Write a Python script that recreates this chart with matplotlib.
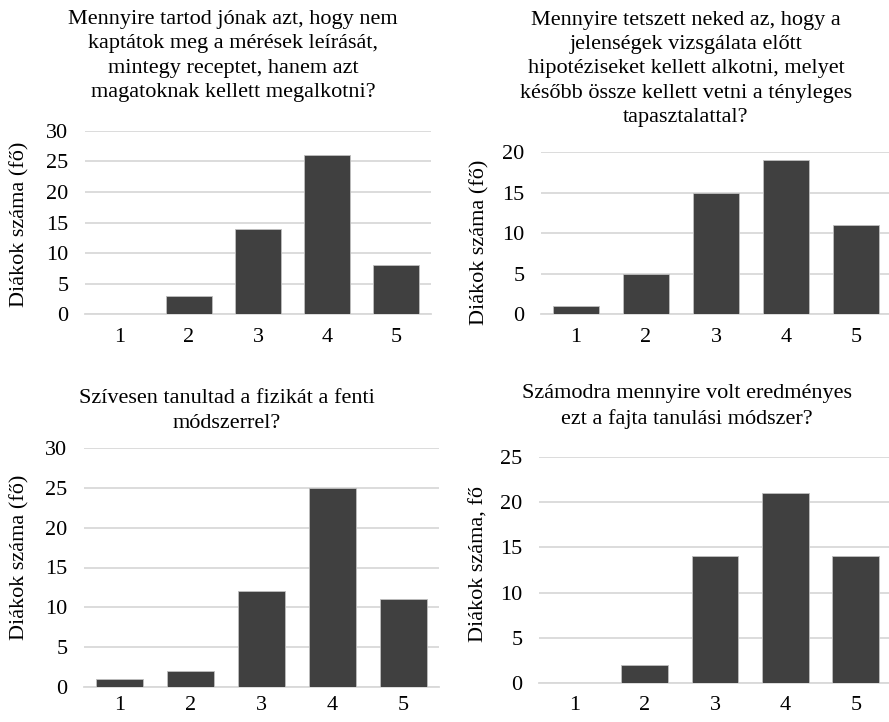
import matplotlib
matplotlib.use("Agg")
import matplotlib.pyplot as plt

plt.rcParams['font.family'] = ['Liberation Serif', 'DejaVu Serif']

categories = ["1", "2", "3", "4", "5"]

title_tl = "Mennyire tartod jónak azt, hogy nem\nkaptátok meg a mérések leírását,\nmintegy receptet, hanem azt\nmagatoknak kellett megalkotni?"
values_tl = [0, 3, 14, 26, 8]

title_tr = "Mennyire tetszett neked az, hogy a\njelenségek vizsgálata előtt\nhipotéziseket kellett alkotni, melyet\nkésőbb össze kellett vetni a tényleges\ntapasztalattal?"
values_tr = [1, 5, 15, 19, 11]

title_bl = "Szívesen tanultad a fizikát a fenti\nmódszerrel?"
values_bl = [1, 2, 12, 25, 11]

title_br = "Számodra mennyire volt eredményes\nezt a fajta tanulási módszer?"
values_br = [0, 2, 14, 21, 14]

ylabel_a = "Diákok száma (fő)"
ylabel_b = "Diákok száma, fő"

W, H = 889, 722
fig = plt.figure(figsize=(W / 100, H / 100), dpi=100)

BAR = "#404040"
GRID = "#d9d9d9"
FS = 16


def px_axes(x0, x1, ytop, ybot):
    return fig.add_axes([x0 / W, 1 - ybot / H, (x1 - x0) / W, (ybot - ytop) / H])


panels = [
    # (x0, x1, ytop, ybot, values, ymax, ylabel, title, title_xc, title_yc, label_right_x, label_yc, xpad)
    (85, 431, 130.7, 314.3, values_tl, 30, ylabel_a, title_tl, 233, 56, 29, 224, 10),
    (541, 891, 152, 314.3, values_tr, 20, ylabel_a, title_tr, 686, 69, 489, 242, 10),
    (84, 439, 448.3, 686.7, values_bl, 30, ylabel_a, title_bl, 227, 411, 29, 557, 7),
    (539, 891, 456.5, 683.3, values_br, 25, ylabel_b, title_br, 687, 406.5, 489, 564, 9.5),
]

for (x0, x1, yt, yb, vals, ymax, ylab, ttl, txc, tyc, lrx, lyc, xpad) in panels:
    ax = px_axes(x0, x1, yt, yb)
    xs = list(range(len(categories)))
    ax.bar(xs, vals, width=0.665, color=BAR, edgecolor="#bfbfbf", linewidth=0.6, zorder=3)
    ax.set_xlim(-0.5, len(categories) - 0.5)
    ax.set_ylim(0, ymax)
    ax.set_yticks(range(0, ymax + 1, 5))
    ax.set_xticks(xs)
    ax.set_xticklabels(categories)
    ax.yaxis.grid(True, color=GRID, linewidth=1.3, zorder=0)
    ax.set_axisbelow(True)
    for s in ["top", "right", "left"]:
        ax.spines[s].set_visible(False)
    ax.spines["bottom"].set_color(GRID)
    ax.spines["bottom"].set_linewidth(1.3)
    ax.tick_params(axis="both", length=0, labelsize=FS, colors="black")
    ax.tick_params(axis="x", pad=xpad)
    ax.tick_params(axis="y", pad=12)
    ax.set_ylabel(ylab, fontsize=FS)
    ax.yaxis.set_label_coords(lrx / W, 1 - lyc / H, transform=fig.transFigure)
    fig.text(txc / W, 1 - tyc / H, ttl, ha="center", va="center", fontsize=FS,
             linespacing=1.36)

fig.savefig("out.png", dpi=100)
